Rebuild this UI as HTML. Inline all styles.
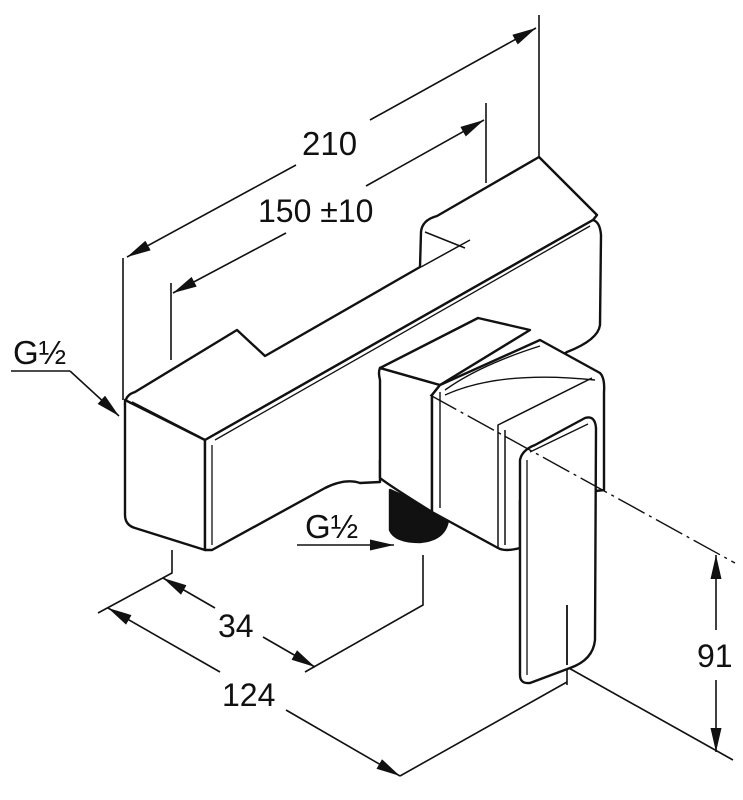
<!DOCTYPE html>
<html><head><meta charset="utf-8"><style>
html,body{margin:0;padding:0;background:#fff;}
svg{display:block}
text{font-family:"Liberation Sans",sans-serif;fill:#111}
</style></head><body>
<svg width="743" height="800" viewBox="0 0 743 800" xmlns="http://www.w3.org/2000/svg">
<defs>
<marker id="a" viewBox="0 0 24 11" refX="24" refY="5.5" markerWidth="24" markerHeight="11" markerUnits="userSpaceOnUse" orient="auto"><path d="M0,0 L24,5.5 L0,11 Z" fill="#111"/></marker>
</defs>
<g stroke="#111" stroke-width="1.6" fill="none">
<!-- 210 -->
<line x1="539" y1="15" x2="539" y2="158"/>
<line x1="123" y1="258" x2="123" y2="400"/>
<line x1="296" y1="165" x2="127" y2="257" marker-end="url(#a)"/>
<line x1="370" y1="120" x2="536" y2="28" marker-end="url(#a)"/>
<!-- 150 -->
<line x1="486" y1="103" x2="486" y2="183"/>
<line x1="171" y1="283" x2="171" y2="360"/>
<line x1="286" y1="233" x2="173" y2="293" marker-end="url(#a)"/>
<line x1="366" y1="186" x2="484" y2="120" marker-end="url(#a)"/>
<!-- G1/2 left -->
<polyline points="11,371 70,371"/>
<line x1="70" y1="371" x2="119" y2="416" marker-end="url(#a)"/>
<!-- G1/2 bottom -->
<line x1="297" y1="545" x2="394" y2="545" marker-end="url(#a)"/>
<!-- 34 -->
<polyline points="172,550 172,573 98,613"/>
<polyline points="423,555 423,605 305,672"/>
<line x1="215" y1="608" x2="163" y2="578" marker-end="url(#a)"/>
<line x1="263" y1="637" x2="315" y2="667" marker-end="url(#a)"/>
<!-- 124 -->
<line x1="220" y1="672" x2="108" y2="608" marker-end="url(#a)"/>
<line x1="286" y1="710" x2="400" y2="776" marker-end="url(#a)"/>
<line x1="400" y1="776" x2="567" y2="682"/>
<line x1="567" y1="640" x2="567" y2="685"/>
<!-- 91 -->
<line x1="567" y1="667" x2="733" y2="760"/>
<line x1="716" y1="630" x2="716" y2="555" marker-end="url(#a)"/>
<line x1="716" y1="680" x2="716" y2="752" marker-end="url(#a)"/>
</g>
<!-- body -->
<g stroke="#111" stroke-width="2.4" fill="#fff" stroke-linejoin="round">
<path d="M125,405 Q125,395 135,392 L237,330 L265,356 L272,352 L420,267 L421,232 Q422,220 437,216 L539,157 L597,215 L593,220 L205,440 Z"/>
<path d="M125,400 L125,515 Q125,525 135,528 L205,550 L205,440 Z"/>
<path d="M205,440 L593,220 Q600,222 601,235 L600,325 Q598,340 567,352 L380,460 L380,482 L360,483 Q345,478 325,488 L212,550 L205,550 Z"/>
<path d="M215,440 L590,226" fill="none" stroke-width="1.3"/>
<path d="M132,402 L200,437" fill="none" stroke-width="1.6"/>
<path d="M212,445 L212,545" fill="none" stroke-width="1.3"/>
<path d="M425,232 L465,248 M421,267 L470,240" fill="none" stroke-width="1.5"/>
<!-- connector -->
<path d="M390,490 L390,530 Q395,542 420,542 Q445,540 448,520 L435,510 Z" fill="#111"/>
<!-- valve block -->
<path d="M380,368 Q378,372 380,380 L380,478 Q390,486 432,512 L432,395 L440,385 L380,368 Z"/>
<path d="M380,368 L478,318 L530,330 L440,385 Z"/>
<path d="M432,395 L440,385 L540,340 L600,373 Q605,378 604,392 L604,490 L520,500 L520,548 Q505,552 498,548 L432,512 Z"/>
<path d="M440,392 L440,508 M445,390 Q480,365 540,346 M445,395 Q500,370 595,380" fill="none" stroke-width="1.4"/>
<path d="M498,548 L498,425 L592,378 M505,545 L505,430" fill="none" stroke-width="1.5"/>
<!-- handle -->
<path d="M520,460 Q522,450 535,445 L585,418 Q595,415 596,428 L595,640 Q593,660 570,668 L530,683 Q520,684 520,675 Z"/>
<path d="M527,460 L527,675 M530,452 L588,424" fill="none" stroke-width="1.3"/>
<line x1="567" y1="605" x2="567" y2="665" stroke-width="1.8"/>
</g>
<line x1="430" y1="395" x2="735" y2="563" stroke="#111" stroke-width="1.4" stroke-dasharray="30,5,3,5"/>
<text x="302" y="155" font-size="33">210</text>
<text x="258" y="222" font-size="32">150 ±10</text>
<text x="13" y="364" font-size="33">G½</text>
<text x="305" y="538" font-size="33">G½</text>
<text x="218" y="637" font-size="32">34</text>
<text x="222" y="706" font-size="32">124</text>
<text x="697" y="667" font-size="32">91</text>
</svg>
</body></html>
